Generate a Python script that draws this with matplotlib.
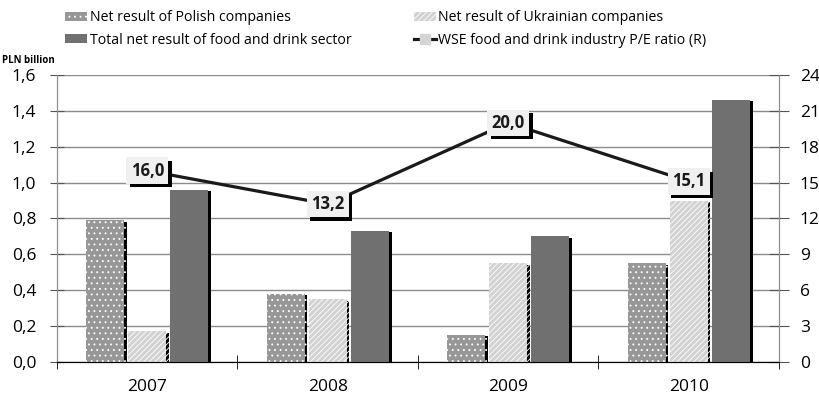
import numpy as np
import matplotlib.pyplot as plt
import matplotlib.patheffects as pe
from matplotlib.patches import Patch
from matplotlib.ticker import FuncFormatter

plt.rcParams['font.family'] = ['Open Sans', 'DejaVu Sans']
plt.rcParams['hatch.linewidth'] = 0.6

# dane
years = ['2007', '2008', '2009', '2010']
polish = [0.79, 0.38, 0.15, 0.55]
ukrainian = [0.17, 0.35, 0.55, 0.90]
total = [0.96, 0.73, 0.70, 1.46]
pe_ratio = [16.0, 13.2, 20.0, 15.1]

fig = plt.figure(figsize=(8.2, 4.01), dpi=100)
ax = fig.add_axes([0.0695, 0.0973, 0.8805, 0.7157])
ax2 = ax.twinx()

x = np.arange(len(years))
w = 0.21
step = 0.233
shadow = [pe.SimplePatchShadow(offset=(2, -1), shadow_rgbFace='black', alpha=1.0), pe.Normal()]

pol_style = dict(facecolor='#979797', edgecolor='white', linewidth=0, hatch='...')
ukr_style = dict(facecolor='#d2d2d2', edgecolor='white', linewidth=0, hatch='//////')
tot_style = dict(facecolor='#707070', linewidth=0)

b1 = ax.bar(x - step, polish, w, zorder=3, **pol_style)
b2 = ax.bar(x, ukrainian, w, zorder=3, **ukr_style)
b3 = ax.bar(x + step, total, w, zorder=3, **tot_style)
for bars in (b1, b2, b3):
    for r in bars:
        r.set_path_effects(shadow)

ax.set_xlim(-0.5, len(years) - 0.5)
ax.set_ylim(0, 1.6)
ax.set_yticks(np.arange(0, 1.61, 0.2))
ax.yaxis.set_major_formatter(FuncFormatter(lambda v, p: f'{v:.1f}'.replace('.', ',')))
ax.grid(axis='y', color='#8c8c8c', linewidth=1.0, zorder=0)
ax.set_axisbelow(True)
ax.set_xticks(x)
ax.set_xticklabels(years)
ax.set_xticks(np.arange(-0.5, len(years)), minor=True)
ax.tick_params(axis='x', which='major', length=0, pad=12, labelsize=12.5)
ax.tick_params(axis='x', which='minor', length=10, direction='inout', color='black')
ax.tick_params(axis='y', length=10, direction='inout', color='#555555', labelsize=12.5, pad=10)

ax2.set_ylim(0, 24)
ax2.set_yticks(np.arange(0, 25, 3))
ax2.tick_params(axis='y', length=14, direction='inout', color='#555555', labelsize=12.5, pad=8)

for a in (ax, ax2):
    a.spines['top'].set_visible(False)
    a.spines['left'].set_color('#8c8c8c')
    a.spines['right'].set_color('#8c8c8c')
    a.spines['bottom'].set_color('black')

line, = ax2.plot(x, pe_ratio, color='#1a1a1a', linewidth=2.3, marker='s', markersize=7,
                 markerfacecolor='#d4d4d4', markeredgecolor='#d4d4d4', zorder=5)
ax2.set_zorder(ax.get_zorder() + 1)
ax2.patch.set_visible(False)

box_shadow = [pe.SimplePatchShadow(offset=(2.5, -2.5), shadow_rgbFace='black', alpha=1.0), pe.Normal()]
for xi, v in zip(x, pe_ratio):
    t = ax2.text(xi, v, f'{v:.1f}'.replace('.', ','), ha='center', va='center', fontsize=12,
                 fontweight='bold', color='#1a1a1a', zorder=6,
                 bbox=dict(boxstyle='square,pad=0.25', facecolor='#f0f0f0', edgecolor='none'))
    t.get_bbox_patch().set_path_effects(box_shadow)

fig.text(0.002, 0.85, 'PLN billion', fontsize=7, fontweight='bold', va='center')

handles = [Patch(**pol_style), Patch(**tot_style), Patch(**ukr_style), line]
fig.legend(handles,
           ['Net result of Polish companies', 'Total net result of food and drink sector',
            'Net result of Ukrainian companies', 'WSE food and drink industry P/E ratio (R)'],
           ncol=2, loc='upper left', bbox_to_anchor=(0.079, 0.975), frameon=False,
           fontsize=10.2, handlelength=1.55, handleheight=0.6, handletextpad=0.2,
           columnspacing=4.4, labelspacing=0.55, borderpad=0, borderaxespad=0)

fig.savefig('out.png', dpi=100)
